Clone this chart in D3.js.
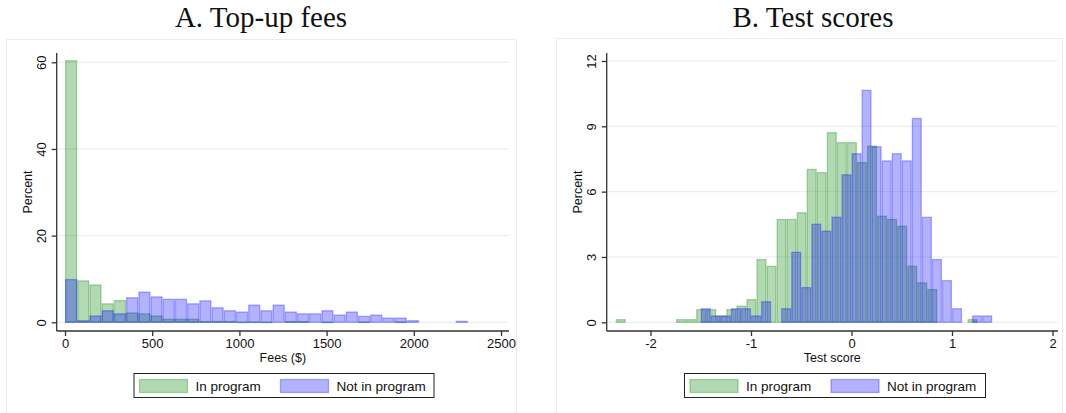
<!DOCTYPE html>
<html>
<head>
<meta charset="utf-8">
<script src="https://cdn.jsdelivr.net/npm/d3@7"></script>
<style>
  html, body { margin: 0; padding: 0; background: #fff; }
  svg { display: block; }
  .tick text { font-family: "Liberation Sans", Arial, sans-serif; }
</style>
</head>
<body>
<svg id="chart" width="1066" height="413"></svg>
<script>
// ---- Panel A: top-up fees, percent of schools per $70 bin starting at $0
const feeBinStart = 0;
const feeBinWidth = 70;
const feeInProgram = [60.5, 9.7, 8.75, 4.4, 5.15, 2.3, 2.1, 1.6, 0.85, 0.85, 0.85, 0.3, 0.3, 0.3, 0.15, 0.2, 0.15, 0, 0.3, 0.3, 0, 0.15, 0, 0, 0.2, 0, 0, 0.2, 0, 0, 0, 0, 0];
const feeNotInProgram = [10.0, 0.5, 1.6, 2.8, 2.1, 5.8, 7.1, 6.0, 5.45, 5.45, 4.4, 5.1, 3.5, 2.8, 2.5, 4.1, 2.8, 4.1, 2.5, 2.1, 2.1, 2.8, 1.8, 2.5, 1.5, 1.8, 1.1, 1.1, 0.5, 0, 0, 0, 0.35];
const feeXTicks = [0, 500, 1000, 1500, 2000, 2500];
const feeYTicks = [0, 20, 40, 60];

// ---- Panel B: test scores, percent of schools per 0.1-SD bin
const scoreInBinStart = -2.346;
const scoreOutBinStart = -1.5;
const scoreBinWidth = 0.1;
const scoreInProgram = [0.15, 0, 0, 0, 0, 0, 0.15, 0.15, 0.61, 0.61, 0.31, 0.61, 0.77, 1.07, 2.91, 2.6, 4.75, 4.75, 5.06, 7.05, 6.9, 8.74, 8.28, 8.28, 7.36, 8.12, 4.9, 4.75, 4.44, 2.6, 1.84, 1.53, 0, 0, 0, 0.15];
const scoreNotInProgram = [0.65, 0.32, 0.32, 0.65, 0.65, 0.32, 0.97, 0, 0.65, 3.24, 1.62, 4.53, 4.21, 4.85, 6.8, 7.77, 10.68, 8.09, 7.44, 7.77, 7.44, 9.39, 4.85, 2.91, 1.94, 0.65, 0, 0.32, 0.32];
const scoreXTicks = [-2, -1, 0, 1, 2];
const scoreYTicks = [0, 3, 6, 9, 12];

const seriesNames = ["In program", "Not in program"];
const greenFill = "rgba(0,128,0,0.3)";
const blueFill = "rgba(0,0,255,0.3)";

// plain integer labels with an ASCII hyphen for negatives
const intLabel = d => String(d);

const svg = d3.select("#chart");
svg.append("rect").attr("width", 1066).attr("height", 413).attr("fill", "#fff");

function toBins(values, start, width) {
  return values.map((v, i) => ({ x0: start + i * width, x1: start + (i + 1) * width, v }))
               .filter(d => d.v > 0);
}

function drawPanel(cfg) {
  const g = svg.append("g");
  // outer graph-region frame
  g.append("rect")
    .attr("x", cfg.frame[0] + 0.5).attr("y", cfg.frame[1] + 0.5)
    .attr("width", cfg.frame[2]).attr("height", cfg.frame[3])
    .attr("fill", "none").attr("stroke", "#e6eef0").attr("stroke-width", 1);

  g.append("text")
    .attr("x", cfg.titleX).attr("y", 27)
    .attr("text-anchor", "middle")
    .attr("font-family", "Liberation Serif, Times New Roman, serif")
    .attr("font-size", 29).attr("fill", "#111")
    .text(cfg.title);

  const x = d3.scaleLinear().domain(cfg.xDomain).range(cfg.xRange);
  const y = d3.scaleLinear().domain(cfg.yDomain).range(cfg.yRange);
  const left = cfg.plot[0], right = cfg.plot[1], top = cfg.plot[2], bottom = cfg.plot[3];

  // horizontal grid lines
  g.append("g").selectAll("line").data(cfg.yTicks).join("line")
    .attr("x1", left + 1).attr("x2", right)
    .attr("y1", d => y(d)).attr("y2", d => y(d))
    .attr("stroke", "#e8f0f1").attr("stroke-width", 1.2);

  // bars: in-program first, not-in-program drawn over it
  const layers = [
    { bins: toBins(cfg.inVals, cfg.inStart, cfg.width), color: greenFill },
    { bins: toBins(cfg.outVals, cfg.outStart, cfg.width), color: blueFill }
  ];
  layers.forEach(layer => {
    g.append("g").selectAll("rect").data(layer.bins).join("rect")
      .attr("x", d => x(d.x0) + 0.6)
      .attr("width", d => Math.max(0, x(d.x1) - x(d.x0) - 1.2))
      .attr("y", d => y(d.v) + 0.6)
      .attr("height", d => Math.max(0.4, y(0) - y(d.v) - 0.6))
      .attr("fill", layer.color)
      .attr("stroke", layer.color)
      .attr("stroke-width", 1.3);
  });

  // axes
  const xAxis = d3.axisBottom(x).tickValues(cfg.xTicks).tickSize(5).tickPadding(3)
    .tickFormat(intLabel);
  const gx = g.append("g").attr("transform", `translate(0,${bottom})`).call(xAxis);
  gx.select(".domain").attr("d", `M${left},0H${right}`).attr("stroke", "#333").attr("stroke-width", 1.3);
  gx.selectAll(".tick line").attr("stroke", "#333").attr("stroke-width", 1.3);
  gx.selectAll(".tick text").attr("font-size", 13).attr("fill", "#111");

  const yAxis = d3.axisLeft(y).tickValues(cfg.yTicks).tickSize(5).tickPadding(4)
    .tickFormat(intLabel);
  const gy = g.append("g").attr("transform", `translate(${left},0)`).call(yAxis);
  gy.select(".domain").attr("d", `M0,${top}V${bottom}`).attr("stroke", "#333").attr("stroke-width", 1.3);
  gy.selectAll(".tick line").attr("stroke", "#333").attr("stroke-width", 1.3);
  gy.selectAll(".tick text")
    .attr("font-size", 13).attr("fill", "#111")
    .attr("text-anchor", "middle").attr("dy", null)
    .attr("transform", "translate(-15,0) rotate(-90)")
    .attr("x", 0).attr("y", 0)
    .attr("dominant-baseline", "central");

  // axis titles
  g.append("text")
    .attr("x", (left + right) / 2).attr("y", bottom + 31)
    .attr("text-anchor", "middle")
    .attr("font-family", "Liberation Sans, Arial, sans-serif")
    .attr("font-size", 12.5).attr("fill", "#111")
    .text(cfg.xTitle);
  g.append("text")
    .attr("transform", `translate(${left - 25},${(top + bottom) / 2}) rotate(-90)`)
    .attr("text-anchor", "middle")
    .attr("font-family", "Liberation Sans, Arial, sans-serif")
    .attr("font-size", 12.5).attr("fill", "#111")
    .text("Percent");

  // legend
  const lg = g.append("g");
  lg.append("rect")
    .attr("x", cfg.legend[0] + 0.5).attr("y", 373.5)
    .attr("width", cfg.legend[1]).attr("height", 24)
    .attr("fill", "#fff").attr("stroke", "#222").attr("stroke-width", 1);
  const keyColors = [greenFill, blueFill];
  seriesNames.forEach((name, i) => {
    const kx = cfg.legend[0] + 6 + i * 141;
    lg.append("rect")
      .attr("x", kx).attr("y", 379.5)
      .attr("width", 48).attr("height", 13)
      .attr("fill", keyColors[i]).attr("stroke", keyColors[i]).attr("stroke-width", 1.3);
    lg.append("text")
      .attr("x", kx + 56).attr("y", 390.5)
      .attr("font-family", "Liberation Sans, Arial, sans-serif")
      .attr("font-size", 13.5).attr("fill", "#111")
      .text(name);
  });
}

drawPanel({
  title: "A. Top-up fees", titleX: 261,
  frame: [6, 39, 510, 380],
  plot: [56.7, 509, 53, 331],
  xDomain: [0, 2500], xRange: [65, 501],
  yDomain: [0, 60], yRange: [322.3, 62.3],
  xTicks: feeXTicks, yTicks: feeYTicks,
  inVals: feeInProgram, outVals: feeNotInProgram,
  inStart: feeBinStart, outStart: feeBinStart, width: feeBinWidth,
  xTitle: "Fees ($)",
  legend: [133.5, 300]
});

drawPanel({
  title: "B. Test scores", titleX: 813,
  frame: [556, 38, 506, 380],
  plot: [606.7, 1058, 53, 331],
  xDomain: [-2, 2], xRange: [650.5, 1052.5],
  yDomain: [0, 12], yRange: [322.3, 61],
  xTicks: scoreXTicks, yTicks: scoreYTicks,
  inVals: scoreInProgram, outVals: scoreNotInProgram,
  inStart: scoreInBinStart, outStart: scoreOutBinStart, width: scoreBinWidth,
  xTitle: "Test score",
  legend: [684, 301]
});
</script>
</body>
</html>
